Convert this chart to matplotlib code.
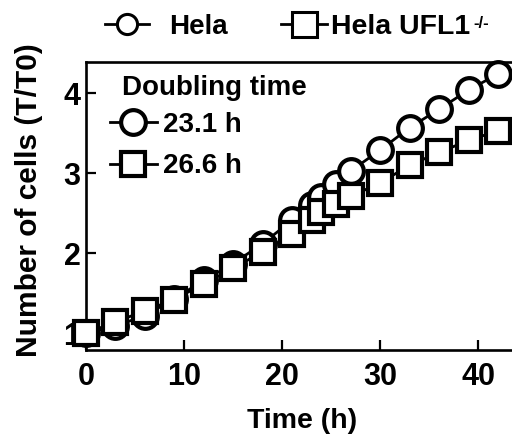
import matplotlib
matplotlib.use("Agg")
import matplotlib.pyplot as plt
from matplotlib.lines import Line2D

plt.rcParams['font.family'] = ['Liberation Sans', 'DejaVu Sans']
plt.rcParams['font.weight'] = 'bold'

# ---- data ----
time_h = [0, 3, 6, 9, 12, 15, 18, 21, 23, 24, 25.5, 27, 30, 33, 36, 39, 42]
hela = [1.00, 1.09, 1.22, 1.43, 1.66, 1.87, 2.12, 2.41, 2.60, 2.70, 2.87, 3.03, 3.29, 3.57, 3.80, 4.04, 4.24]
hela_ufl1 = [1.00, 1.14, 1.28, 1.42, 1.62, 1.81, 2.02, 2.24, 2.41, 2.52, 2.61, 2.71, 2.88, 3.10, 3.26, 3.41, 3.53]
series_names = ["Hela", "Hela UFL1"]
superscript = "-/-"
doubling_labels = ["23.1 h", "26.6 h"]
x_ticks = [0, 10, 20, 30, 40]
y_ticks = [1, 2, 3, 4]

W, H = 512, 436
fig = plt.figure(figsize=(W / 100, H / 100), dpi=100)
ax = fig.add_axes([86 / W, 1 - 350 / H, (W - 86) / W, 288 / H])

ms, mew, lw = 17.8, 3.0, 2.0
ax.plot(time_h, hela, '-o', color='black', lw=lw, ms=ms, mew=mew,
        mfc='white', mec='black', clip_on=False, zorder=3)
ax.plot(time_h, hela_ufl1, '-s', color='black', lw=lw, ms=ms, mew=mew,
        mfc='white', mec='black', clip_on=False, zorder=4)

ax.set_xlim(0, (W - 86) / 9.81)
ax.set_ylim(0.79, 4.39)
ax.set_xticks(x_ticks)
ax.set_yticks(y_ticks)
ax.tick_params(direction='in', length=7, width=1.6, labelsize=22)
ax.tick_params(axis='x', pad=8.5)
ax.tick_params(axis='y', pad=4)
for lab in ax.get_xticklabels() + ax.get_yticklabels():
    lab.set_fontweight('bold')
ax.spines['right'].set_visible(False)
for s in ['left', 'top', 'bottom']:
    ax.spines[s].set_linewidth(1.9)

fig.text(302 / W, 1 - 428 / H, "Time (h)", ha='center', va='baseline',
         fontsize=20.5, fontweight='bold')
fig.text(29 / W, 1 - 200 / H, "Number of cells (T/T0)", ha='center', va='center',
         rotation=90, fontsize=21.5, fontweight='bold')

# inner legend
ax.text((122 - 86) / 426, (350 - 95) / 288, "Doubling time",
        transform=ax.transAxes, ha='left', va='baseline', fontsize=20, fontweight='bold')
h1 = Line2D([], [], color='black', marker='o', lw=lw, ms=ms, mew=mew, mfc='white', mec='black')
h2 = Line2D([], [], color='black', marker='s', lw=lw, ms=ms, mew=mew, mfc='white', mec='black')
leg = ax.legend([h1, h2], doubling_labels, loc='upper left',
                bbox_to_anchor=((110 - 86) / 426, (350 - 112) / 288),
                frameon=False, handlelength=1.68, handletextpad=0.22,
                borderpad=0, borderaxespad=0, labelspacing=0.55,
                prop={'weight': 'bold', 'size': 20})

# top legends
t1 = Line2D([], [], color='black', marker='o', lw=2.0, ms=14.5, mew=2.2, mfc='white', mec='black')
t2 = Line2D([], [], color='black', marker='s', lw=2.0, ms=18, mew=2.2, mfc='white', mec='black')
fig.legend([t1], [series_names[0]], loc='center left',
           bbox_to_anchor=(105 / W, 1 - 27 / H), frameon=False,
           handlelength=1.6, handletextpad=0.7, borderpad=0, borderaxespad=0,
           prop={'weight': 'bold', 'size': 20})
leg2 = fig.legend([t2], [series_names[1]], loc='center left',
                  bbox_to_anchor=(281 / W, 1 - 27 / H), frameon=False,
                  handlelength=1.6, handletextpad=0.15, borderpad=0, borderaxespad=0,
                  prop={'weight': 'bold', 'size': 20.5})

fig.canvas.draw()
bb = leg2.get_texts()[0].get_window_extent(fig.canvas.get_renderer())
fig.text((bb.x1 + 3) / W, 1 - 27.5 / H, superscript, ha='left', va='baseline',
         fontsize=12, fontweight='bold')

fig.savefig("out.png", dpi=100)
